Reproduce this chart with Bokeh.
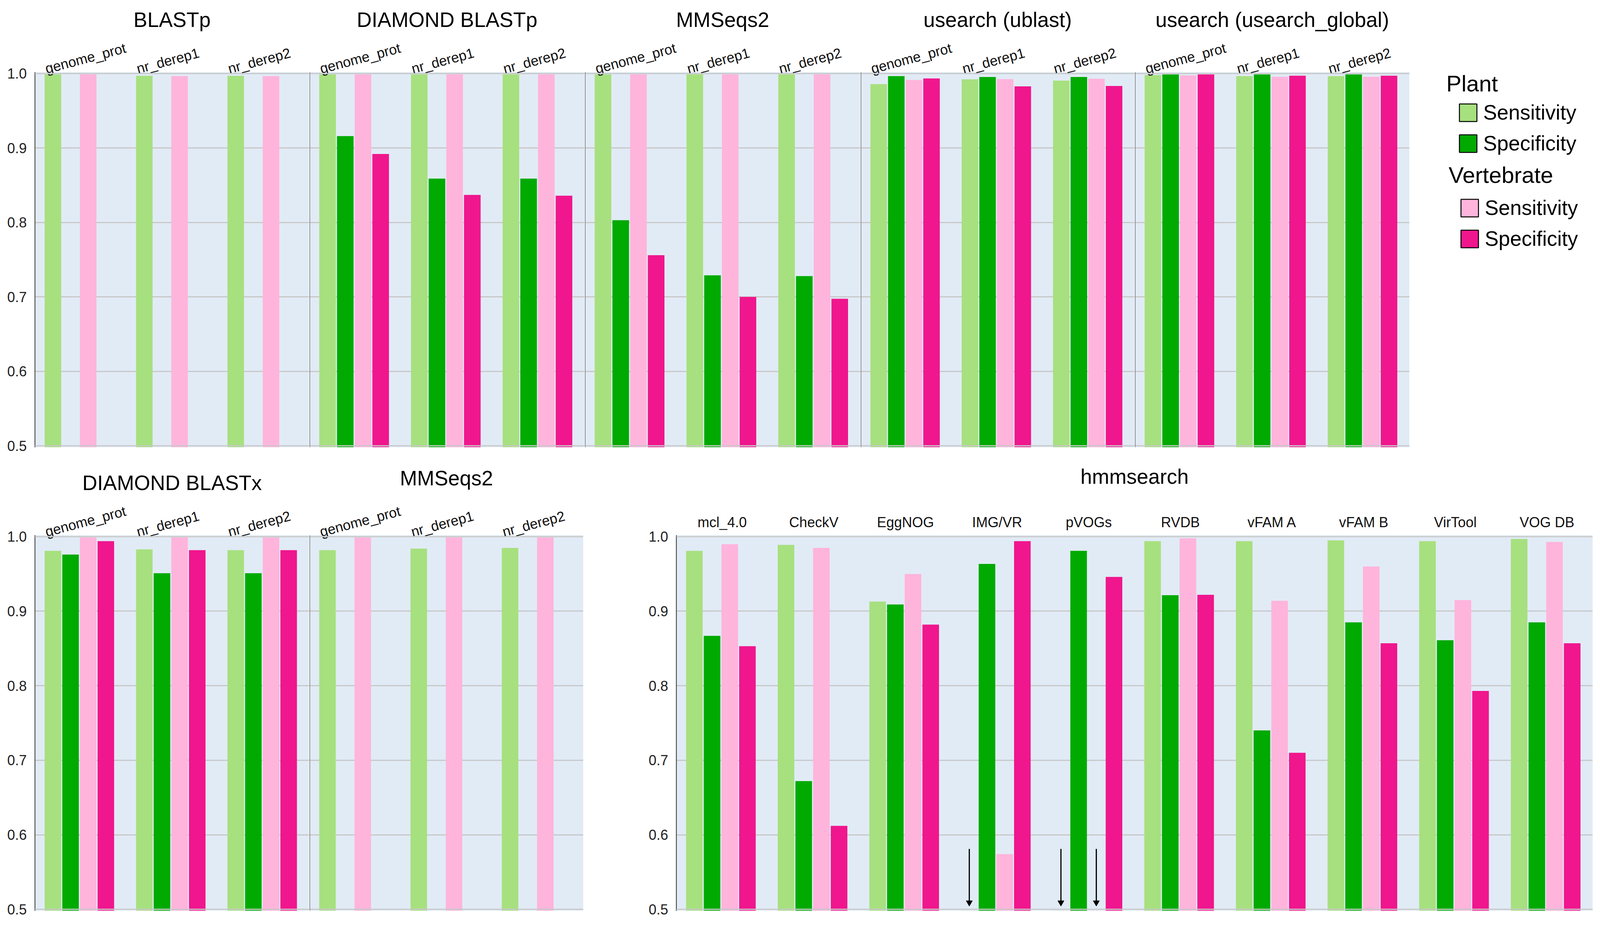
from bokeh.plotting import figure
from bokeh.models import (ColumnDataSource, FactorRange, Range1d, LinearAxis, CategoricalAxis,
                          FixedTicker, PrintfTickFormatter, Span, Legend, LegendItem, Label)
from bokeh.transform import dodge
from bokeh.layouts import row, column
from bokeh.embed import file_html
from bokeh.resources import INLINE

NAN = float("nan")

# ---------------- data ----------------
databases = ["genome_prot", "nr_derep1", "nr_derep2"]
group_names = ["Plant", "Vertebrate"]
metric_names = ["Sensitivity", "Specificity"]

# top row: protein queries
blastp_plant_sens = [0.999, 0.997, 0.997]
blastp_plant_spec = [NAN, NAN, NAN]
blastp_vert_sens = [0.999, 0.9966, 0.9966]
blastp_vert_spec = [NAN, NAN, NAN]

diamond_p_plant_sens = [0.999, 0.999, 0.999]
diamond_p_plant_spec = [0.916, 0.859, 0.859]
diamond_p_vert_sens = [0.999, 0.999, 0.999]
diamond_p_vert_spec = [0.892, 0.837, 0.836]

mmseqs_p_plant_sens = [0.999, 0.999, 0.999]
mmseqs_p_plant_spec = [0.803, 0.729, 0.728]
mmseqs_p_vert_sens = [0.999, 0.999, 0.999]
mmseqs_p_vert_spec = [0.756, 0.700, 0.6975]

ublast_plant_sens = [0.9858, 0.9923, 0.9906]
ublast_plant_spec = [0.9966, 0.9955, 0.9955]
ublast_vert_sens = [0.9914, 0.9926, 0.9931]
ublast_vert_spec = [0.9935, 0.9828, 0.9834]

uglobal_plant_sens = [0.998, 0.9966, 0.9966]
uglobal_plant_spec = [0.9988, 0.9988, 0.9988]
uglobal_vert_sens = [0.9976, 0.9957, 0.9957]
uglobal_vert_spec = [0.9988, 0.9971, 0.9971]

# bottom row: nucleotide queries
diamond_x_plant_sens = [0.981, 0.983, 0.982]
diamond_x_plant_spec = [0.976, 0.951, 0.951]
diamond_x_vert_sens = [0.999, 0.999, 0.999]
diamond_x_vert_spec = [0.994, 0.982, 0.982]

mmseqs_x_plant_sens = [0.982, 0.984, 0.985]
mmseqs_x_plant_spec = [NAN, NAN, NAN]
mmseqs_x_vert_sens = [0.999, 0.999, 0.999]
mmseqs_x_vert_spec = [NAN, NAN, NAN]

hmm_databases = ["mcl_4.0", "CheckV", "EggNOG", "IMG/VR", "pVOGs", "RVDB",
                 "vFAM A", "vFAM B", "VirTool", "VOG DB"]
# values below 0.5 are off the axis in the original (shown only as arrows)
hmm_plant_sens = [0.981, 0.989, 0.913, 0.45, 0.45, 0.994, 0.994, 0.995, 0.994, 0.997]
hmm_plant_spec = [0.867, 0.672, 0.909, 0.9635, 0.981, 0.9215, 0.740, 0.885, 0.861, 0.885]
hmm_vert_sens = [0.990, 0.985, 0.950, 0.574, 0.45, 0.998, 0.914, 0.960, 0.915, 0.993]
hmm_vert_spec = [0.853, 0.612, 0.882, 0.994, 0.946, 0.922, 0.710, 0.857, 0.793, 0.857]

y_ticks = [0.5, 0.6, 0.7, 0.8, 0.9, 1.0]

# ---------------- style ----------------
FONT = "Liberation Sans"
COLORS = ["#A7E07F", "#00AA00", "#FFB4DC", "#F0168D"]
BG = "#E1EBF6"
GRID = "#C8C8C8"
OFFSETS = [-0.3035, -0.1105, 0.0825, 0.2755]
BAR_W = 0.181
Y_LO, Y_HI = 0.498, 1.002
AXIS_MIN = 0.5
LABEL_SHIFT = 0.115
LABEL_ANGLE = 0.26
ARROW_TOP, ARROW_TIP = 0.581, 0.509
TICK_FS = "36px"
TITLE_FS = "53px"

TOP_TB, TOP_FH, TOP_BB = 184, 960, 18
BOT_TB, BOT_FH, BOT_BB = 207, 961, 18
TOP_H = TOP_TB + TOP_FH + TOP_BB
BOT_H = BOT_TB + BOT_FH + BOT_BB


def panel(title, cats, values, width, height, top_b, bot_b, left_b, has_yaxis, rotated, title_lift):
    n = len(cats)
    if rotated:
        xr = Range1d(0, n)
        xcol = [i + 0.5 for i in range(n)]
    else:
        xr = FactorRange(factors=cats, range_padding=0, factor_padding=0)
        xcol = list(cats)
    p = figure(x_range=xr, y_range=Range1d(Y_LO, Y_HI), width=width, height=height,
               output_backend="svg", toolbar_location=None,
               x_axis_location=None, y_axis_location=None,
               min_border_left=left_b, min_border_right=0,
               min_border_top=top_b, min_border_bottom=bot_b)
    p.background_fill_color = BG
    p.border_fill_color = "white"
    p.outline_line_color = None
    p.xgrid.visible = False
    p.ygrid.ticker = FixedTicker(ticks=y_ticks[1:-1])
    p.ygrid.grid_line_color = GRID
    p.ygrid.grid_line_width = 3

    src = ColumnDataSource(dict(db=xcol, s0=values[0], s1=values[1], s2=values[2], s3=values[3]))
    for k in range(4):
        p.vbar(x=dodge("db", OFFSETS[k], range=p.x_range), top=f"s{k}", bottom=0,
               width=BAR_W, source=src, fill_color=COLORS[k], line_color=None)
        low = [c for c, v in zip(xcol, values[k]) if v == v and v < AXIS_MIN]
        if low:
            asrc = ColumnDataSource(dict(db=low, y0=[ARROW_TOP] * len(low), y1=[ARROW_TIP] * len(low)))
            xs = dodge("db", OFFSETS[k], range=p.x_range)
            p.segment(x0=xs, y0="y0", x1=xs, y1="y1", source=asrc, line_color="black", line_width=3)
            p.scatter(x=xs, y="y1", source=asrc, marker="inverted_triangle", size=16,
                      fill_color="black", line_color="black")

    for loc in (y_ticks[0], y_ticks[-1]):
        p.add_layout(Span(location=loc, dimension="width", line_color=GRID, line_width=3))

    if has_yaxis:
        ya = LinearAxis(ticker=FixedTicker(ticks=y_ticks), formatter=PrintfTickFormatter(format="%.1f"),
                        axis_line_color="#333333", axis_line_width=2,
                        major_tick_line_color=None, minor_tick_line_color=None,
                        major_tick_out=0, major_tick_in=0, major_label_standoff=21,
                        major_label_text_font=FONT, major_label_text_font_size=TICK_FS,
                        major_label_text_color="#222222")
        p.add_layout(ya, "left")
    else:
        p.add_layout(Span(location=0, dimension="height", line_color="#555555", line_width=2.5))

    if rotated:
        p.extra_x_ranges = {"labels": Range1d(-LABEL_SHIFT, n - LABEL_SHIFT)}
        xa = LinearAxis(x_range_name="labels", ticker=FixedTicker(ticks=list(range(n))),
                        major_label_overrides={i: c for i, c in enumerate(cats)},
                        major_label_orientation=LABEL_ANGLE, major_label_standoff=8)
    else:
        xa = CategoricalAxis(major_label_orientation="horizontal", major_label_standoff=13)
    xa.axis_line_color = None
    xa.major_tick_line_color = None
    xa.minor_tick_line_color = None
    xa.major_tick_out = 0
    xa.major_tick_in = 0
    xa.major_label_text_font = FONT
    xa.major_label_text_font_size = TICK_FS
    xa.major_label_text_color = "#111111"
    if title_lift > 0:
        # blank axis label only adds room between the tick labels and the title
        xa.axis_label = " "
        xa.axis_label_text_font_size = "1px"
        xa.axis_label_standoff = title_lift
    p.add_layout(xa, "above")

    p.title.text = title
    p.title.align = "center"
    p.title.text_font = FONT
    p.title.text_font_size = TITLE_FS
    p.title.text_font_style = "normal"
    p.title.text_color = "black"
    p.title.standoff = 0
    return p


top_specs = [
    ("BLASTp", [blastp_plant_sens, blastp_plant_spec, blastp_vert_sens, blastp_vert_spec], 791, 89, True),
    ("DIAMOND BLASTp", [diamond_p_plant_sens, diamond_p_plant_spec, diamond_p_vert_sens, diamond_p_vert_spec], 705, 1, False),
    ("MMSeqs2", [mmseqs_p_plant_sens, mmseqs_p_plant_spec, mmseqs_p_vert_sens, mmseqs_p_vert_spec], 706, 1, False),
    ("usearch (ublast)", [ublast_plant_sens, ublast_plant_spec, ublast_vert_sens, ublast_vert_spec], 702, 1, False),
    ("usearch (usearch_global)", [uglobal_plant_sens, uglobal_plant_spec, uglobal_vert_sens, uglobal_vert_spec], 704, 1, False),
]
top_figs = [panel(t, databases, v, w, TOP_H, TOP_TB, TOP_BB, lb, ya, True, 0)
            for t, v, w, lb, ya in top_specs]

bot_a = panel("DIAMOND BLASTx", databases,
              [diamond_x_plant_sens, diamond_x_plant_spec, diamond_x_vert_sens, diamond_x_vert_spec],
              791, BOT_H, BOT_TB, BOT_BB, 89, True, True, 0)
bot_b = panel("MMSeqs2", databases,
              [mmseqs_x_plant_sens, mmseqs_x_plant_spec, mmseqs_x_vert_sens, mmseqs_x_vert_spec],
              702, BOT_H, BOT_TB, BOT_BB, 1, False, True, 8)
bot_c = panel("hmmsearch", hmm_databases,
              [hmm_plant_sens, hmm_plant_spec, hmm_vert_sens, hmm_vert_spec],
              2584, BOT_H, BOT_TB, BOT_BB, 238, True, False, 60)

# ---------------- legend panel ----------------
LEG_W = 480
lg = figure(width=LEG_W, height=TOP_H, x_range=Range1d(0, LEG_W),
            y_range=Range1d(TOP_TB + TOP_FH, TOP_TB),
            output_backend="svg", toolbar_location=None, x_axis_location=None, y_axis_location=None,
            min_border_left=0, min_border_right=0, min_border_top=TOP_TB, min_border_bottom=TOP_BB)
lg.outline_line_color = None
lg.grid.visible = False
lg.background_fill_color = "white"
lg.border_fill_color = "white"

legend_boxes = [(122, 747), (126, 503)]
header_pos = [(94, 213), (100, 447)]
for gi, gname in enumerate(group_names):
    items = []
    for mi, mname in enumerate(metric_names):
        r = lg.rect(x=[-100], y=[-100], width=1, height=1, fill_color=COLORS[gi * 2 + mi],
                    line_color="black", line_width=2.5)
        items.append(LegendItem(label=mname, renderers=[r]))
    leg = Legend(items=items, location=legend_boxes[gi], orientation="vertical",
                 glyph_width=56, glyph_height=56, label_standoff=11, spacing=18,
                 padding=0, margin=0, border_line_color=None, background_fill_alpha=0,
                 label_text_font=FONT, label_text_font_size="53px", label_text_color="black")
    lg.add_layout(leg)
    lg.add_layout(Label(x=header_pos[gi][0], y=header_pos[gi][1], text=gname, text_font=FONT,
                        text_font_size="58px", text_color="black", text_baseline="middle"))

layout = column(row(*top_figs, lg), row(bot_a, bot_b, bot_c))
open("out.html", "w").write(file_html(layout, INLINE))
